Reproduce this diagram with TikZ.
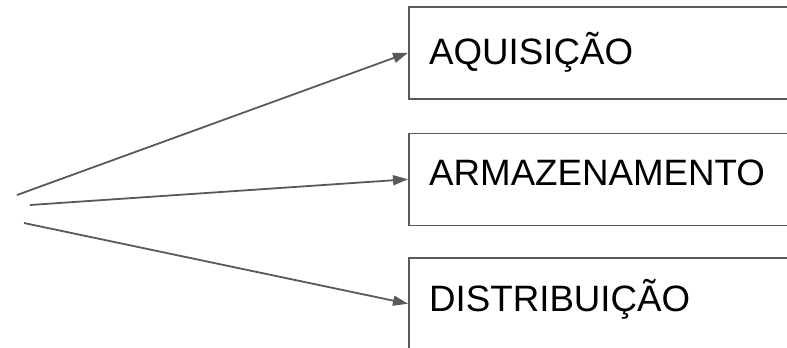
\documentclass[tikz,border=0pt]{standalone}
\usepackage{fontspec}
\setmainfont{Liberation Sans}
\usetikzlibrary{arrows.meta}
\definecolor{edge}{HTML}{595959}
\begin{document}
\begin{tikzpicture}[x=1bp,y=-1bp,
  box/.style={draw=edge, line width=1.5bp, minimum width=420bp, minimum height=92bp, anchor=north west, inner sep=0pt},
  lbl/.style={anchor=base west, inner sep=0pt, font=\fontsize{36.7bp}{44bp}\selectfont},
  arr/.style={draw=edge, line width=1.8bp, -{Triangle[length=15bp,width=10bp]}}]
\useasboundingbox (0,0) rectangle (787,347);
\clip (0,0) rectangle (787,347);
\node[box] (b1) at (408,6) {};
\node[box] (b2) at (408,132.5) {};
\node[box] (b3) at (408,257) {};
\node[lbl] (t1) at (429,64) {AQUISIÇÃO};
\node[lbl] (t2) at (429,185) {ARMAZENAMENTO};
\node[lbl] (t3) at (429,311) {DISTRIBUIÇÃO};
\coordinate (s1) at (17,195);
\coordinate (s2) at (30,205);
\coordinate (s3) at (24,223);
\draw[arr] (s1) -- (b1.west);
\draw[arr] (s2) -- (b2.west);
\draw[arr] (s3) -- (b3.west);
\end{tikzpicture}
\end{document}
